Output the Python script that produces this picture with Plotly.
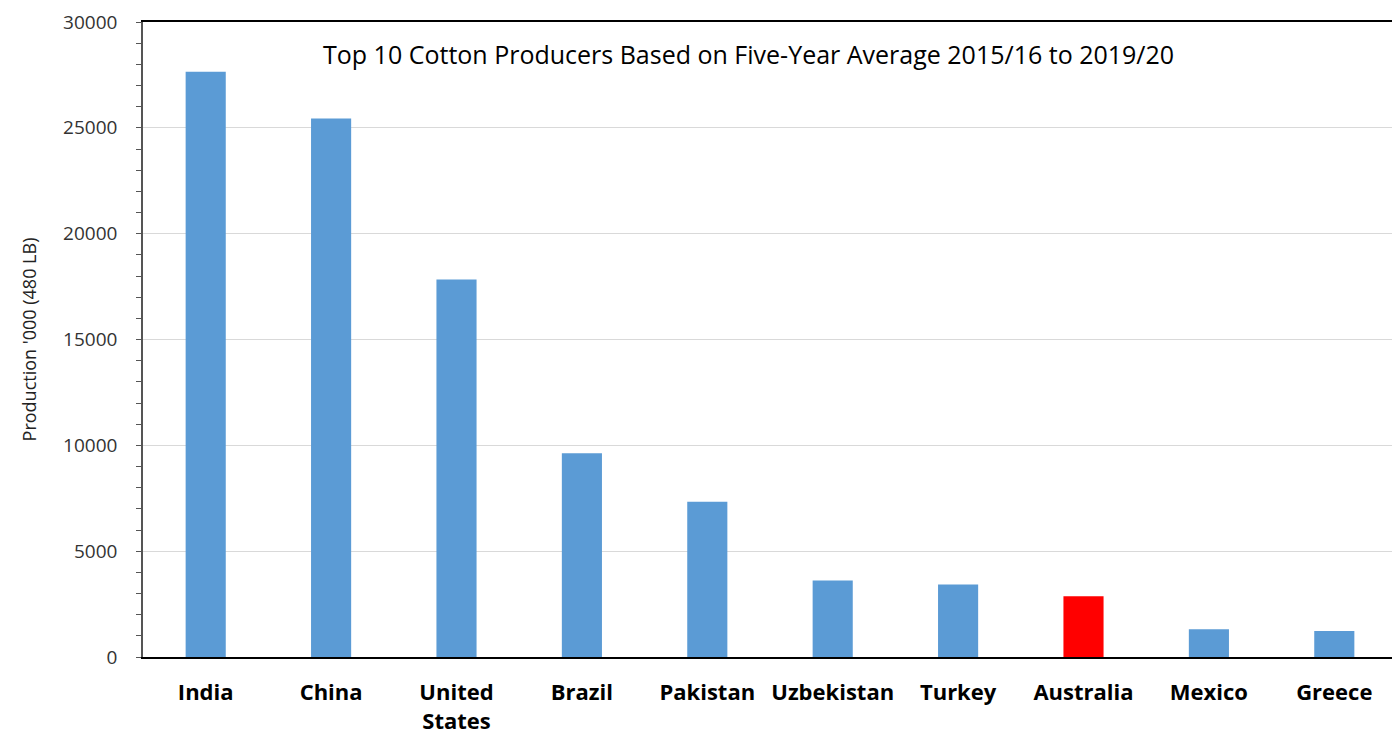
import plotly.graph_objects as go

countries = ["India", "China", "United<br>States", "Brazil", "Pakistan", "Uzbekistan",
             "Turkey", "Australia", "Mexico", "Greece"]
production = [27650, 25440, 17840, 9630, 7330, 3620, 3430, 2870, 1310, 1230]
bar_colors = ["#5B9BD5"] * 7 + ["#FF0000"] + ["#5B9BD5"] * 2
y_ticks = [0, 5000, 10000, 15000, 20000, 25000, 30000]

fig = go.Figure(go.Bar(
    x=countries, y=production, width=0.32,
    marker=dict(color=bar_colors, line=dict(width=0)),
))

fig.update_layout(
    width=1392, height=731,
    margin=dict(l=135, r=3, t=14, b=82),
    plot_bgcolor="white", paper_bgcolor="white",
    showlegend=False,
    annotations=[dict(
        text="Top 10 Cotton Producers Based on Five-Year Average 2015/16 to 2019/20",
        x=0.483, y=0.95, xref="paper", yref="paper", xanchor="center", yanchor="middle",
        showarrow=False,
        font=dict(family="Open Sans, sans-serif", size=25, color="#000000"),
    )],
)
fig.update_xaxes(
    showline=True, linecolor="#000000", linewidth=2, mirror=True,
    tickfont=dict(family="Open Sans, sans-serif", size=22, color="#000000", weight="bold"),
    ticks="", ticklabelstandoff=15, automargin=False,
)
fig.update_yaxes(
    range=[0, 30000], tickmode="array", tickvals=y_ticks, ticktext=[str(v) for v in y_ticks],
    ticklabeloverflow="allow", automargin=False,
    showline=True, linecolor="#555555", linewidth=1.5, mirror=True,
    showgrid=True, gridcolor="#D9D9D9", gridwidth=1,
    ticks="outside", ticklen=0, ticklabelstandoff=20,
    minor=dict(dtick=1000, tick0=0, ticks="outside", ticklen=5, tickcolor="#555555", showgrid=False),
    tickfont=dict(family="Open Sans, sans-serif", size=19, color="#333333"),
    title=dict(text="Production '000 (480 LB)", font=dict(family="Open Sans, sans-serif", size=18, color="#222222"), standoff=22),
    zeroline=False,
)

fig.write_html("out.html")
